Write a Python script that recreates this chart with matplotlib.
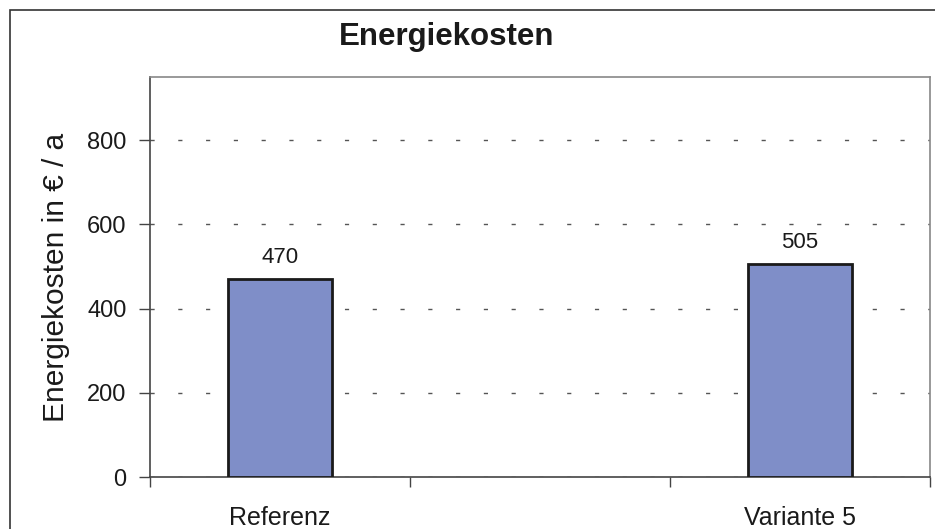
import matplotlib
matplotlib.use("Agg")
import matplotlib.pyplot as plt
from matplotlib.patches import Rectangle

plt.rcParams['font.family'] = ['Liberation Sans', 'DejaVu Sans']

# Data
categories = ["Referenz", "", "Variante 5"]
values = [470, None, 505]
y_ticks = [0, 200, 400, 600, 800]

W, H = 935, 529
fig = plt.figure(figsize=(W / 100, H / 100), dpi=100)
ax = fig.add_axes([150 / W, 1 - 477 / H, 780 / W, 400 / H])

xs = [i for i, v in enumerate(values) if v is not None]
vs = [v for v in values if v is not None]
ax.bar(xs, vs, width=0.4, color="#7f8ec8", edgecolor="#1a1a1a", linewidth=2, zorder=3)
for x, v in zip(xs, vs):
    ax.annotate(f"{v}", (x, v), xytext=(0, 8), textcoords="offset points",
                ha="center", va="bottom", fontsize=16, color="#1a1a1a")

ax.set_xlim(-0.5, len(categories) - 0.5)
ax.set_ylim(0, 950)
ax.set_yticks(y_ticks)
ax.yaxis.grid(True, color="#555555", linestyle=(0, (3, 17)), linewidth=1, zorder=0)
ax.tick_params(axis="y", direction="out", length=8, width=1, colors="#444444",
               labelsize=17, labelcolor="#1a1a1a", pad=9)

# Category boundaries carry the tick marks, labels sit at centres
ax.set_xticks([i - 0.5 for i in range(len(categories) + 1)])
ax.set_xticklabels([])
ax.set_xticks(range(len(categories)), minor=True)
ax.set_xticklabels(categories, minor=True)
ax.tick_params(axis="x", which="major", direction="out", length=7, width=1, colors="#444444")
ax.tick_params(axis="x", which="minor", length=0, labelsize=18, labelcolor="#1a1a1a", pad=21)

for side in ("left", "bottom"):
    ax.spines[side].set_color("#444444")
    ax.spines[side].set_linewidth(1.2)
for side in ("top", "right"):
    ax.spines[side].set_color("#888888")
    ax.spines[side].set_linewidth(1.2)

ax.set_ylabel("Energiekosten in € / a", fontsize=21.5, color="#1a1a1a", labelpad=12)

fig.text(447 / W, 1 - 37 / H, "Energiekosten", ha="center", va="center",
         fontsize=22.5, fontweight="bold", color="#1a1a1a")

# Outer chart frame
fig.patches.append(Rectangle((10 / W, -0.05), 1.1, 1 - 10 / H + 0.05,
                             transform=fig.transFigure, fill=False,
                             edgecolor="#333333", linewidth=1.2))

fig.savefig("out.png", dpi=100)
